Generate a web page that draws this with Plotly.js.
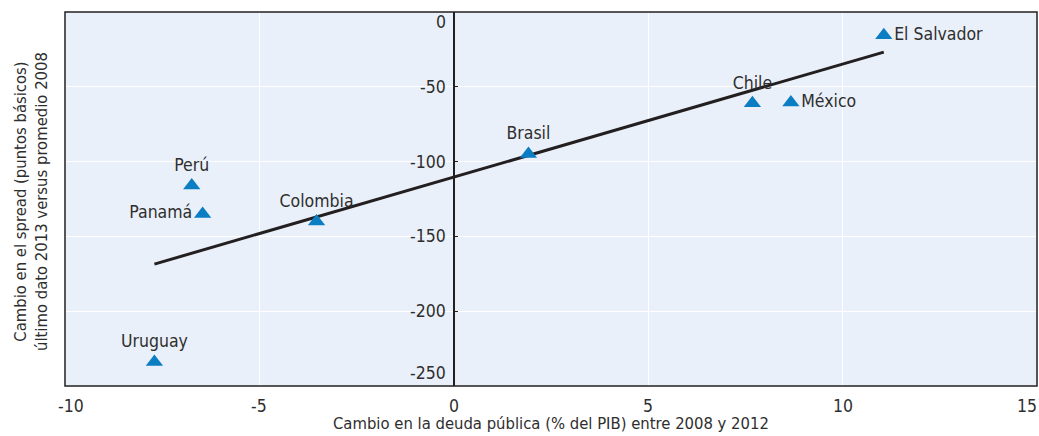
<!DOCTYPE html>
<html>
<head>
<meta charset="utf-8">
<script src="https://cdn.plot.ly/plotly-3.0.1.min.js"></script>
<style>
  html, body { margin: 0; padding: 0; background: #ffffff; }
  #chart { width: 1039px; height: 436px; }
</style>
</head>
<body>
<div id="chart"></div>
<script>
// ---- Data ----
const countries = ["Perú", "Panamá", "Colombia", "Uruguay", "Brasil", "Chile", "México", "El Salvador"];
const debtChange = [-6.74, -6.46, -3.53, -7.70, 1.92, 7.68, 8.67, 11.06];      // % del PIB
const spreadChange = [-116, -135, -140, -234, -95, -61, -60.5, -15.6];          // puntos básicos
const labelPos = ["top center", "middle left", "top center", "top center", "top center", "top center", "middle right", "middle right"];

// Trend line end points (as drawn in the reference)
const trendX = [-7.70, 11.06];
const trendY = [-168.5, -26.8];

// Axis ticks
const xTickVals = [-10, -5, 0, 5, 10, 15];
const xTickText = ["-10", "-5", "0", "5", "10", "15"];
const yTickVals = [0, -50, -100, -150, -200, -250];
const yTickText = ["0", "-50", "-100", "-150", "-200", "-250"];

const xTitle = "Cambio en la deuda pública (% del PIB) entre 2008 y 2012";
const yTitle = "Cambio en el spread (puntos básicos)<br>último dato 2013 versus promedio 2008";

// ---- Styles ----
const FONT = "'Liberation Sans Narrow', 'DejaVu Sans Condensed', 'Arial Narrow', sans-serif";
const TEXT_COLOR = "#2e2e2e";
const FS = 17.5;
const TFS = 16.5;

const traces = [
  {
    type: "scatter", mode: "lines",
    x: trendX, y: trendY,
    line: { color: "#231f20", width: 3 },
    hoverinfo: "skip", showlegend: false
  },
  {
    type: "scatter", mode: "markers+text",
    x: debtChange, y: spreadChange,
    text: countries,
    textposition: labelPos,
    textfont: { family: FONT, size: FS, color: TEXT_COLOR },
    marker: { symbol: "triangle-up", size: 15, color: "#0b7dc3", line: { width: 0 } },
    showlegend: false
  }
];

const annotations = [];
// y tick labels, placed left of the vertical zero line
yTickVals.forEach((v, i) => {
  let ys = 0;
  if (i === 0) ys = -10;
  if (i === yTickVals.length - 1) ys = 13;
  annotations.push({
    x: 0, y: v, xref: "x", yref: "y",
    text: yTickText[i], showarrow: false,
    xanchor: "right", yanchor: "middle", xshift: -6, yshift: ys,
    font: { family: FONT, size: FS, color: TEXT_COLOR }
  });
});
// x tick labels below the frame
xTickVals.forEach((v, i) => {
  let xs = 0;
  if (i === 0) xs = 6;
  if (i === xTickVals.length - 1) xs = -10;
  annotations.push({
    x: v, y: 0, xref: "x", yref: "paper",
    text: xTickText[i], showarrow: false,
    xanchor: "center", yanchor: "middle", xshift: xs, yshift: -20,
    font: { family: FONT, size: FS, color: TEXT_COLOR }
  });
});
// axis titles
annotations.push({
  x: 0.5, y: 0, xref: "paper", yref: "paper",
  text: xTitle, showarrow: false,
  xanchor: "center", yanchor: "bottom", yshift: -49,
  font: { family: FONT, size: TFS, color: TEXT_COLOR }
});
annotations.push({
  x: 0, y: 0.5, xref: "paper", yref: "paper",
  text: yTitle, showarrow: false, textangle: -90,
  xanchor: "center", yanchor: "middle", xshift: -34, yshift: -3,
  font: { family: FONT, size: TFS, color: TEXT_COLOR }
});

const layout = {
  width: 1039, height: 436,
  margin: { l: 65, r: 2, t: 12, b: 50 },
  paper_bgcolor: "#ffffff",
  plot_bgcolor: "#eaf0f9",
  font: { family: FONT, size: FS, color: TEXT_COLOR },
  showlegend: false,
  xaxis: {
    range: [-10, 15],
    tickvals: xTickVals,
    showticklabels: false,
    ticks: "",
    showgrid: true, gridcolor: "#ffffff", gridwidth: 1.2,
    zeroline: true, zerolinecolor: "#231f20", zerolinewidth: 1.5,
    showline: false
  },
  yaxis: {
    range: [-250, 0],
    tickvals: yTickVals,
    showticklabels: false,
    anchor: "free", position: 0.4,
    ticks: "inside", ticklen: 3, tickcolor: "#231f20", tickwidth: 1,
    showgrid: true, gridcolor: "#ffffff", gridwidth: 1.2,
    zeroline: false, showline: false
  },
  shapes: [{
    type: "rect", xref: "paper", yref: "paper",
    x0: 0, x1: 1, y0: 0, y1: 1,
    line: { color: "#231f20", width: 1.5 },
    fillcolor: "rgba(0,0,0,0)", layer: "above"
  }],
  annotations: annotations
};

Plotly.newPlot("chart", traces, layout, { displayModeBar: false, staticPlot: true });
</script>
</body>
</html>
